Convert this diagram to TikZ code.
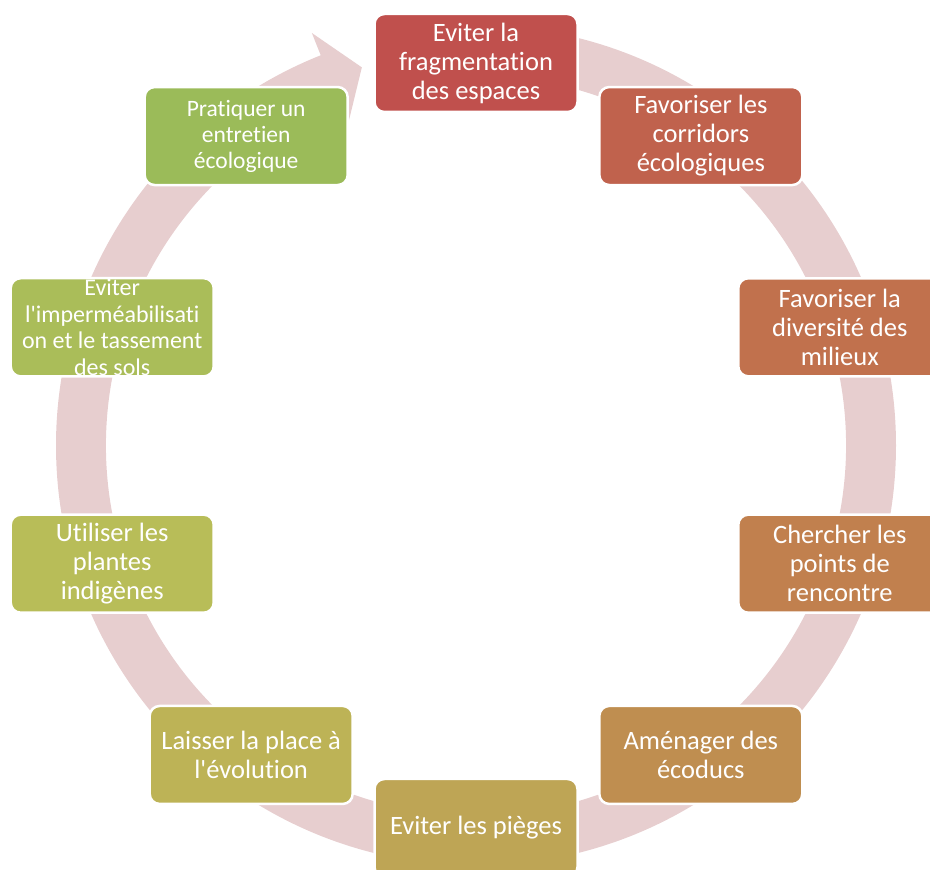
\documentclass[tikz,border=0pt]{standalone}
\usepackage{fontspec}
\setmainfont{Carlito}[Ligatures={NoCommon,TeXOff}]
\definecolor{ring}{RGB}{231,206,207}
\definecolor{c1}{RGB}{192,80,77}
\definecolor{c2}{RGB}{192,98,77}
\definecolor{c3}{RGB}{193,113,77}
\definecolor{c4}{RGB}{193,128,78}
\definecolor{c5}{RGB}{191,142,80}
\definecolor{c6}{RGB}{190,165,85}
\definecolor{c7}{RGB}{189,179,86}
\definecolor{c8}{RGB}{184,189,88}
\definecolor{c9}{RGB}{170,189,89}
\definecolor{c10}{RGB}{155,187,89}
\tikzset{
  cyclebox/.style={rectangle, rounded corners=10pt, minimum width=203pt, minimum height=98pt,
    draw=white, line width=2.5pt, text=white, align=center, inner sep=1pt,
    font=\fontsize{26.5}{29}\selectfont},
  smallbox/.style={cyclebox, font=\fontsize{24}{26.5}\selectfont}
}
\begin{document}
\begin{tikzpicture}[x=1pt,y=1pt]
\useasboundingbox (0,0) rectangle (930,870);
\clip (0,0) rectangle (930,870);
\begin{scope}[shift={(476,424.5)}]
  \fill[ring] (90:420) arc[start angle=90, end angle=-248.3, radius=420]
     -- (-248.3:444) -- (-253.2:395) -- (-248.3:346) -- (-248.3:370)
     arc[start angle=-248.3, end angle=90, radius=370] -- cycle;
  \node[cyclebox, fill=c1] (n1) at (90:382.5) {Eviter la\\fragmentation\\des espaces};
  \node[cyclebox, fill=c2] (n2) at (54:382.5) {Favoriser les\\corridors\\écologiques};
  \node[cyclebox, fill=c3] (n3) at (18:382.5) {Favoriser la\\diversité des\\milieux};
  \node[cyclebox, fill=c4] (n4) at (-18:382.5) {Chercher les\\points de\\rencontre};
  \node[cyclebox, fill=c5] (n5) at (-54:382.5) {Aménager des\\écoducs};
  \node[cyclebox, fill=c6] (n6) at (-90:382.5) {Eviter les pièges};
  \node[cyclebox, fill=c7] (n7) at (-126:382.5) {Laisser la place à\\l'évolution};
  \node[cyclebox, fill=c8] (n8) at (-162:382.5) {Utiliser les\\plantes\\indigènes};
  \node[smallbox, fill=c9] (n9) at (162:382.5) {Eviter\\l'imperméabilisati\\on et le tassement\\des sols};
  \node[smallbox, fill=c10, font=\fontsize{23.5}{26}\selectfont, xshift=-5pt] (n10) at (126:382.5) {Pratiquer un\\entretien\\écologique};
\end{scope}
\end{tikzpicture}
\end{document}
